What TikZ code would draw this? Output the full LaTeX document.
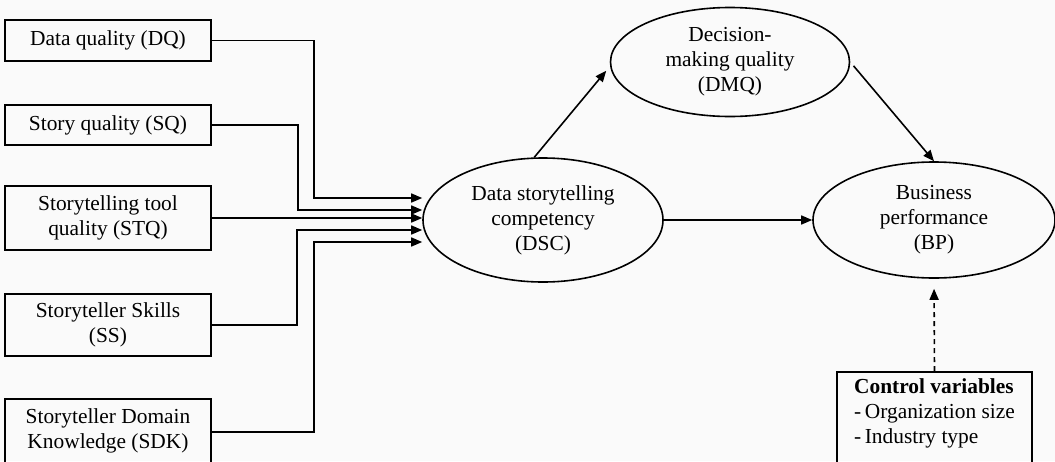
\documentclass[tikz,border=0pt]{standalone}
\usepackage{fontspec}
\setmainfont{Liberation Serif}
\usetikzlibrary{shapes.geometric, arrows.meta}

\tikzset{
 factor/.style={draw, thick, rectangle, minimum width=103pt, align=center, inner sep=0pt},
 construct/.style={draw, thick, ellipse, align=center, inner sep=0pt},
 flow/.style={-{Triangle[length=5.5pt, width=4.5pt]}, thick},
}

\begin{document}
\begin{tikzpicture}[x=0.5pt, y=-0.5pt, font=\fontsize{10.7}{12.5}\selectfont]
 \useasboundingbox (0,0) rectangle (1055,461);
 \fill [black!2] (0,0) rectangle (1055,461);
 \clip (0,0) rectangle (1055,461);

 %% input factors
 \node [factor, minimum height=20.5pt] (dq) at (108,40.5) {Data quality (DQ)};
 \node [factor, minimum height=20pt] (sq) at (108,125) {Story quality (SQ)};
 \node [factor, minimum height=32pt] (stq) at (108,218) {Storytelling tool\\quality (STQ)};
 \node [factor, minimum height=31pt] (ss) at (108,325) {Storyteller Skills\\(SS)};
 \node [factor, anchor=north, inner ysep=5pt, text depth=30pt] (sdk) at (108,398) {Storyteller Domain\\Knowledge (SDK)};

 %% constructs
 \node [construct, minimum width=120pt, minimum height=62pt] (dsc) at (543,220) {Data storytelling\\competency\\(DSC)};
 \node [construct, minimum width=119.5pt, minimum height=54.5pt] (dmq) at (730,62) {Decision-\\making quality\\(DMQ)};
 \node [construct, minimum width=121pt, minimum height=58pt] (bp) at (934,220) {Business\\performance\\(BP)};

 \node [draw, thick, anchor=north, align=left, minimum width=97.5pt, inner xsep=0pt, inner ysep=3.5pt, text depth=30pt] (ctrl) at (934.5,371)
  {\textbf{Control variables}\\-\,Organization size\\-\,Industry type};

 %% paths into DSC
 \draw [flow] (dq.east) -- ++(102,0) |- ([yshift=11pt]dsc.west);
 \draw [flow] (sq.east) -- ++(86,0) |- ([yshift=5pt]dsc.west);
 \draw [flow] (stq.east) -- (stq.east -| dsc.west);
 \draw [flow] (ss.east) -- ++(85,0) |- ([yshift=-5pt]dsc.west);
 \draw [flow] ([yshift=-17pt]sdk.north east) -- ++(102,0) |- ([yshift=-11pt]dsc.west);

 \draw [flow, shorten >=3pt] (dsc.98) -- (dmq.182);
 \draw [flow, shorten <=2.5pt] (dmq.east) -- (bp.north);
 \draw [flow] (dsc.east) -- (bp.west);
 \draw [flow, dash pattern=on 2.5pt off 2pt, shorten >=5pt] (ctrl.north) -- (bp.south);
\end{tikzpicture}
\end{document}
